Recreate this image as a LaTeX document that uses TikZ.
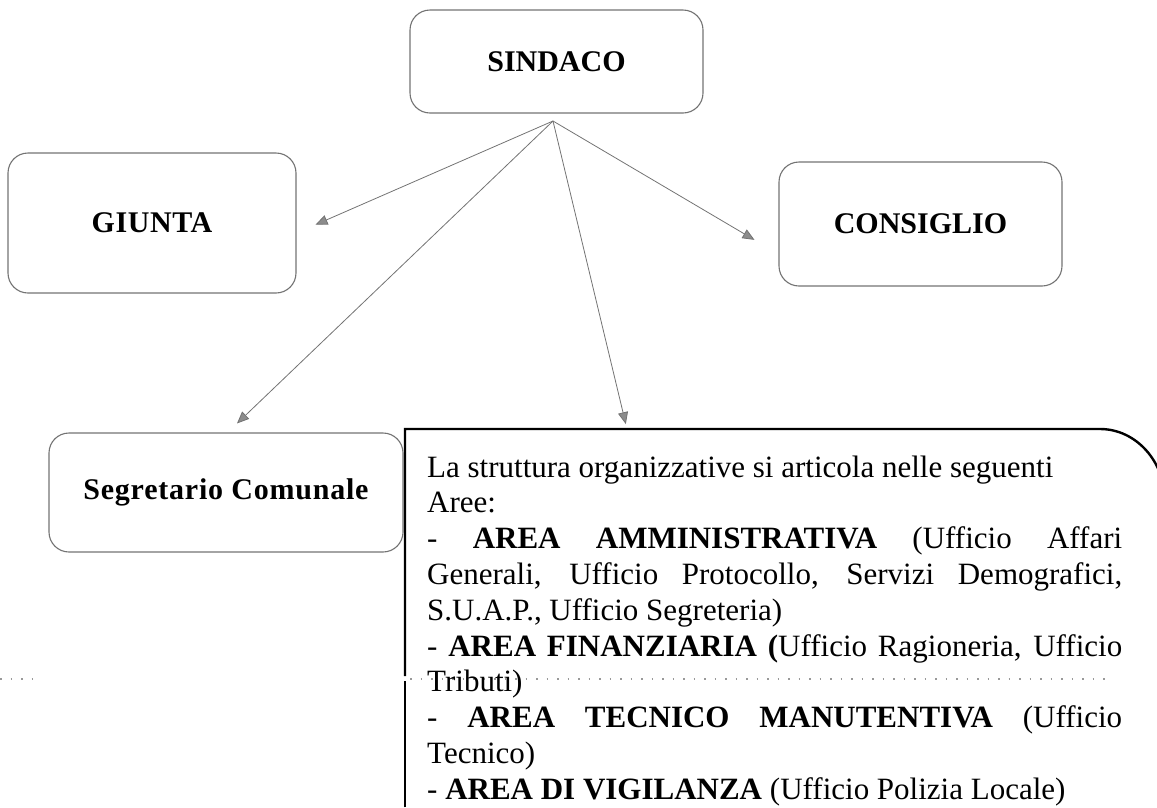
\documentclass[tikz,border=0pt]{standalone}
\usepackage{fontspec}
\setmainfont{Liberation Serif}
\usetikzlibrary{arrows.meta,calc}
\newlength{\linew}\setlength{\linew}{695pt}
\tikzset{
  rbox/.style={draw=black!55, line width=1.1pt, rounded corners=20pt, inner sep=0pt,
    font=\bfseries\fontsize{30}{36}\selectfont},
  link/.style={draw=black!55, line width=0.8pt, -{Triangle[length=12pt,width=10pt,fill=black!45]}},
  bodyline/.style={anchor=base west, inner sep=0pt, font=\fontsize{31}{35.8}\selectfont},
  scandots/.style={draw=black!40, line width=1.2pt, dash pattern=on 1.5pt off 9pt},
  bigborder/.style={draw=black, line width=2.4pt}
}
\begin{document}
\begin{tikzpicture}[x=1pt,y=-1pt]
\useasboundingbox (0,0) rectangle (1157,807);
\clip (0,0) rectangle (1157,807);

\node[rbox, minimum width=293pt, minimum height=103pt] (sindaco) at (556.5,61.5) {SINDACO};
\node[rbox, minimum width=288pt, minimum height=140pt] (giunta) at (152,223) {\addfontfeature{LetterSpace=2}GIUNTA};
\node[rbox, minimum width=283pt, minimum height=124pt] (consiglio) at (920.5,224) {CONSIGLIO};
\node[rbox, minimum width=354pt, minimum height=119pt] (segretario) at (226,492.5) {\addfontfeature{LetterSpace=2.6}Segretario Comunale};
\node[anchor=north west, minimum width=800pt, minimum height=378pt, inner sep=0pt] (areebox) at (405,429) {};

\coordinate (apex) at (553,121);
\draw[link, shorten >=20.7pt] (apex) -- ($(giunta.east)+(0,10)$);
\draw[link, shorten >=27.8pt] (apex) -- ($(consiglio.west)+(0,30)$);
\draw[link, shorten >=13pt] (apex) -- ($(segretario.north)+(1.6,0)$);
\draw[link, shorten >=5pt] (apex) -- ($(areebox.north west)+(222,0)$);

% border of the areas box
\draw[bigborder] ($(areebox.north west)+(0,247)$) -- (areebox.north west) -- ++(695,0)
  arc[start angle=270, end angle=360, x radius=65, y radius=72] -- ++(0,400);
\draw[bigborder] (areebox.south west) -- ($(areebox.north west)+(0,252)$);

% scan artefact dotted line
\draw[scandots] (0,679) -- (38,679);
\draw[scandots] (410,679) -- (1110,679);

\node[bodyline] (l1) at (427,477) {La struttura organizzative si articola nelle seguenti};
\node[bodyline] (l2) at (427,512.8) {Aree:};
\node[bodyline] (l3) at (427,548.6) {\makebox[\linew][s]{- \textbf{AREA AMMINISTRATIVA} (Ufficio Affari}};
\node[bodyline] (l4) at (427,584.4) {\makebox[\linew][s]{Generali, Ufficio Protocollo, Servizi Demografici,}};
\node[bodyline] (l5) at (427,620.2) {S.U.A.P., Ufficio Segreteria)};
\node[bodyline] (l6) at (427,656) {\makebox[\linew][s]{- \textbf{AREA FINANZIARIA (}Ufficio Ragioneria, Ufficio}};
\node[bodyline] (l7) at (427,691.8) {Tributi)};
\node[bodyline] (l8) at (427,727.6) {\makebox[\linew][s]{- \textbf{AREA TECNICO MANUTENTIVA} (Ufficio}};
\node[bodyline] (l9) at (427,763.4) {Tecnico)};
\node[bodyline] (l10) at (427,799.2) {- \textbf{AREA DI VIGILANZA} (Ufficio Polizia Locale)};
\end{tikzpicture}
\end{document}
